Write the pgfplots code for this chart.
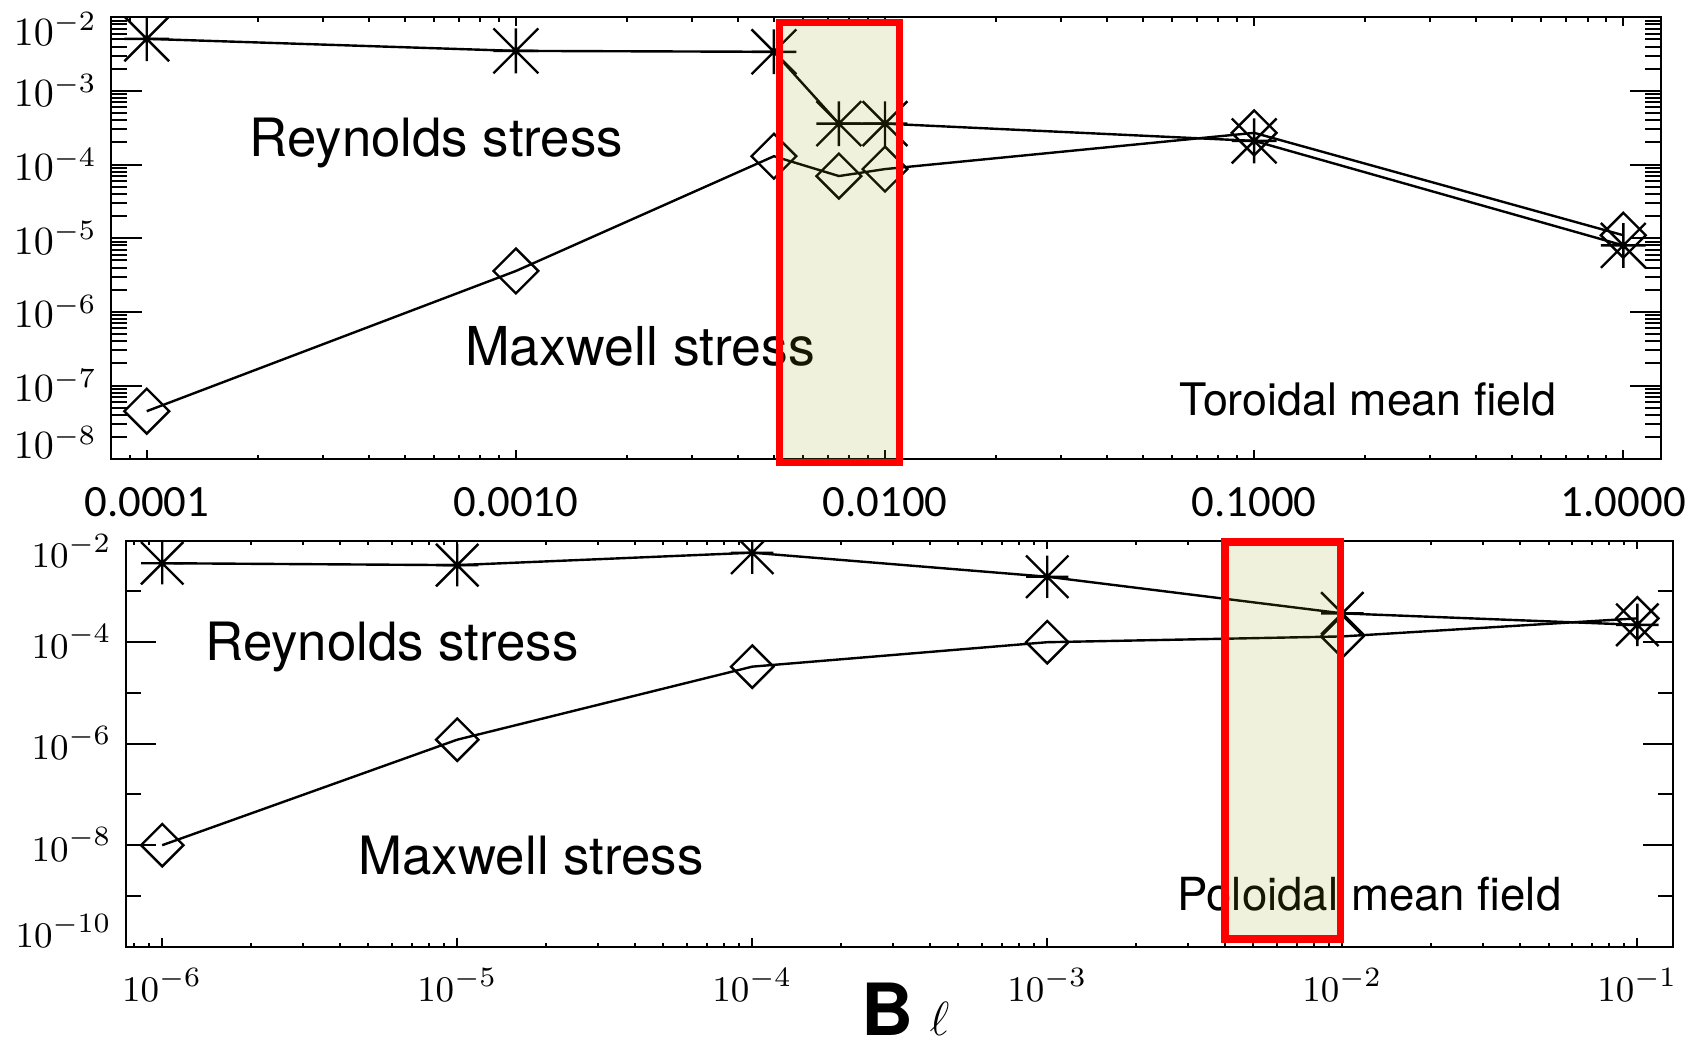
\documentclass[border=0pt]{standalone}
\usepackage{fontspec}
\usepackage{pgfplots}
\pgfplotsset{compat=1.18}

\newfontfamily\heros{TeX Gyre Heros}
\newfontfamily\carlito{Carlito}
\definecolor{boxfill}{RGB}{150,160,20}

% eight-armed asterisk (plus and cross inside a square)
\pgfdeclareplotmark{ast8}{%
  \pgfpathmoveto{\pgfqpoint{-\pgfplotmarksize}{0pt}}%
  \pgfpathlineto{\pgfqpoint{\pgfplotmarksize}{0pt}}%
  \pgfpathmoveto{\pgfqpoint{0pt}{-\pgfplotmarksize}}%
  \pgfpathlineto{\pgfqpoint{0pt}{\pgfplotmarksize}}%
  \pgfpathmoveto{\pgfqpoint{-\pgfplotmarksize}{-\pgfplotmarksize}}%
  \pgfpathlineto{\pgfqpoint{\pgfplotmarksize}{\pgfplotmarksize}}%
  \pgfpathmoveto{\pgfqpoint{-\pgfplotmarksize}{\pgfplotmarksize}}%
  \pgfpathlineto{\pgfqpoint{\pgfplotmarksize}{-\pgfplotmarksize}}%
  \pgfusepathqstroke}
% open diamond with equal diagonals
\pgfdeclareplotmark{sqdiamond}{%
  \pgfpathmoveto{\pgfqpoint{0pt}{\pgfplotmarksize}}%
  \pgfpathlineto{\pgfqpoint{\pgfplotmarksize}{0pt}}%
  \pgfpathlineto{\pgfqpoint{0pt}{-\pgfplotmarksize}}%
  \pgfpathlineto{\pgfqpoint{-\pgfplotmarksize}{0pt}}%
  \pgfpathclose
  \pgfusepathqstroke}

\newcommand\ylab[2]{\raisebox{#1}[0pt][0pt]{$10^{#2}$}}

\tikzset{
  stressline/.style={black, line width=0.6pt, mark options={solid, line width=0.6pt}},
  annot/.style={anchor=base west, inner sep=0pt, text=black},
  hilite/.style={red, line width=1.8pt, line join=miter},
}

\begin{document}
\begin{tikzpicture}
\path[use as bounding box] (0pt,0pt) rectangle (423.75pt,-261.75pt);

% ---------------- toroidal mean field ----------------
\begin{axis}[
  xmode=log, ymode=log, scale only axis,
  clip mode=individual, clip marker paths=true,
  axis line style={black, line width=0.55pt},
  tick align=inside,
  every tick/.style={black, line width=0.5pt},
  at={(27.75pt,-114.825pt)}, anchor=south west,
  width=387.5pt, height=110.5pt,
  xmin=8.0e-5, xmax=1.265, ymin=1e-8, ymax=1e-2,
  xtick={1e-4,1e-3,1e-2,1e-1,1},
  xticklabels={0.0001,0.0010,0.0100,0.1000,1.0000},
  minor xtick={9e-5,2e-4,3e-4,4e-4,5e-4,6e-4,7e-4,8e-4,9e-4,
    2e-3,3e-3,4e-3,5e-3,6e-3,7e-3,8e-3,9e-3,
    2e-2,3e-2,4e-2,5e-2,6e-2,7e-2,8e-2,9e-2,
    0.2,0.3,0.4,0.5,0.6,0.7,0.8,0.9},
  ytick={1e-8,1e-7,1e-6,1e-5,1e-4,1e-3,1e-2},
  yticklabels={\ylab{0.1pt}{-8},\ylab{-4pt}{-7},\ylab{-4pt}{-6},\ylab{-4pt}{-5},
    \ylab{-4pt}{-4},\ylab{-4pt}{-3},\ylab{-6.97pt}{-2}},
  minor ytick={2e-8,3e-8,4e-8,5e-8,6e-8,7e-8,8e-8,9e-8,
    2e-7,3e-7,4e-7,5e-7,6e-7,7e-7,8e-7,9e-7,
    2e-6,3e-6,4e-6,5e-6,6e-6,7e-6,8e-6,9e-6,
    2e-5,3e-5,4e-5,5e-5,6e-5,7e-5,8e-5,9e-5,
    2e-4,3e-4,4e-4,5e-4,6e-4,7e-4,8e-4,9e-4,
    2e-3,3e-3,4e-3,5e-3,6e-3,7e-3,8e-3,9e-3},
  xtick style={/pgfplots/major tick length=2.3pt},
  minor x tick style={/pgfplots/minor tick length=1.2pt},
  ytick style={/pgfplots/major tick length=7.75pt},
  minor y tick style={/pgfplots/minor tick length=3.9pt},
  xticklabel style={font=\carlito\fontsize{11.2}{11.2}\selectfont, yshift=-3.5pt},
  yticklabel style={font=\fontsize{10}{10}\selectfont},
]
% Reynolds stress
\addplot[stressline, mark=ast8, mark size=5.6pt] coordinates {
  (1e-4,5.1e-3) (1e-3,3.5e-3) (5e-3,3.4e-3) (7.5e-3,3.6e-4)
  (1e-2,3.6e-4) (1e-1,2.1e-4) (1,8e-6)};
% Maxwell stress
\addplot[stressline, mark=sqdiamond, mark size=5.6pt] coordinates {
  (1e-4,4.5e-8) (1e-3,3.6e-6) (5e-3,1.3e-4) (7.5e-3,7e-5)
  (1e-2,8.7e-5) (1e-1,2.7e-4) (1,1.1e-5)};
\node[annot, font=\heros\fontsize{13.2}{13.2}\selectfont] at (rel axis cs:0.089,0.686) {Reynolds stress};
\node[annot, font=\heros\fontsize{13.4}{13.4}\selectfont] at (rel axis cs:0.228,0.213) {Maxwell stress};
\node[annot, font=\heros\fontsize{11.2}{11.2}\selectfont] at (rel axis cs:0.689,0.100) {Toroidal mean field};
\fill[boxfill, fill opacity=0.15] (axis cs:5.19e-3,8.99e-9) rectangle (axis cs:1.094e-2,8.445e-3);
\draw[hilite] (axis cs:5.19e-3,8.99e-9) rectangle (axis cs:1.094e-2,8.445e-3);
\end{axis}

% ---------------- poloidal mean field ----------------
\begin{axis}[
  xmode=log, ymode=log, scale only axis,
  clip mode=individual, clip marker paths=true,
  axis line style={black, line width=0.55pt},
  tick align=inside,
  every tick/.style={black, line width=0.5pt},
  at={(31.425pt,-236.675pt)}, anchor=south west,
  width=386.9pt, height=101.5pt,
  xmin=7.52e-7, xmax=0.1324, ymin=1e-10, ymax=1e-2,
  xtick={1e-6,1e-5,1e-4,1e-3,1e-2,1e-1},
  minor xtick={8e-7,9e-7,
    2e-6,3e-6,4e-6,5e-6,6e-6,7e-6,8e-6,9e-6,
    2e-5,3e-5,4e-5,5e-5,6e-5,7e-5,8e-5,9e-5,
    2e-4,3e-4,4e-4,5e-4,6e-4,7e-4,8e-4,9e-4,
    2e-3,3e-3,4e-3,5e-3,6e-3,7e-3,8e-3,9e-3,
    2e-2,3e-2,4e-2,5e-2,6e-2,7e-2,8e-2,9e-2},
  ytick={1e-10,1e-8,1e-6,1e-4,1e-2},
  yticklabels={\ylab{-0.26pt}{-10},\ylab{-3.96pt}{-8},\ylab{-3.96pt}{-6},
    \ylab{-3.96pt}{-4},\ylab{-6.66pt}{-2}},
  minor ytick={1e-9,1e-7,1e-5,1e-3},
  xtick style={/pgfplots/major tick length=2.1pt},
  minor x tick style={/pgfplots/minor tick length=1.0pt},
  ytick style={/pgfplots/major tick length=7.5pt},
  minor y tick style={/pgfplots/minor tick length=3.75pt},
  xticklabel style={font=\fontsize{9.5}{9.5}\selectfont, yshift=-1.8pt},
  yticklabel style={font=\fontsize{9.5}{9.5}\selectfont},
  xlabel={{\heros\bfseries\fontsize{18}{18}\selectfont B}\hspace{4pt}{\fontsize{13}{13}\selectfont$\ell$}},
  xlabel style={at={(axis description cs:0.4751,-0.2175)}, anchor=base west, inner sep=0pt},
]
% Reynolds stress
\addplot[stressline, mark=ast8, mark size=5.3pt] coordinates {
  (1e-6,3.6e-3) (1e-5,3.3e-3) (1e-4,5.8e-3) (1e-3,1.95e-3)
  (1e-2,3.7e-4) (1e-1,2.2e-4)};
% Maxwell stress
\addplot[stressline, mark=sqdiamond, mark size=5.3pt] coordinates {
  (1e-6,1e-8) (1e-5,1.2e-6) (1e-4,3.3e-5) (1e-3,1e-4)
  (1e-2,1.3e-4) (1e-1,2.95e-4)};
\node[annot, font=\heros\fontsize{13.2}{13.2}\selectfont] at (rel axis cs:0.051,0.706) {Reynolds stress};
\node[annot, font=\heros\fontsize{13.2}{13.2}\selectfont] at (rel axis cs:0.150,0.178) {Maxwell stress};
\node[annot, font=\heros\fontsize{11.4}{11.4}\selectfont] at (rel axis cs:0.679,0.088) {Poloidal mean field};
\fill[boxfill, fill opacity=0.15] (axis cs:4.0e-3,1.42e-10) rectangle (axis cs:9.89e-3,9.4e-3);
\draw[hilite] (axis cs:4.0e-3,1.42e-10) rectangle (axis cs:9.89e-3,9.4e-3);
\end{axis}
\end{tikzpicture}
\end{document}
